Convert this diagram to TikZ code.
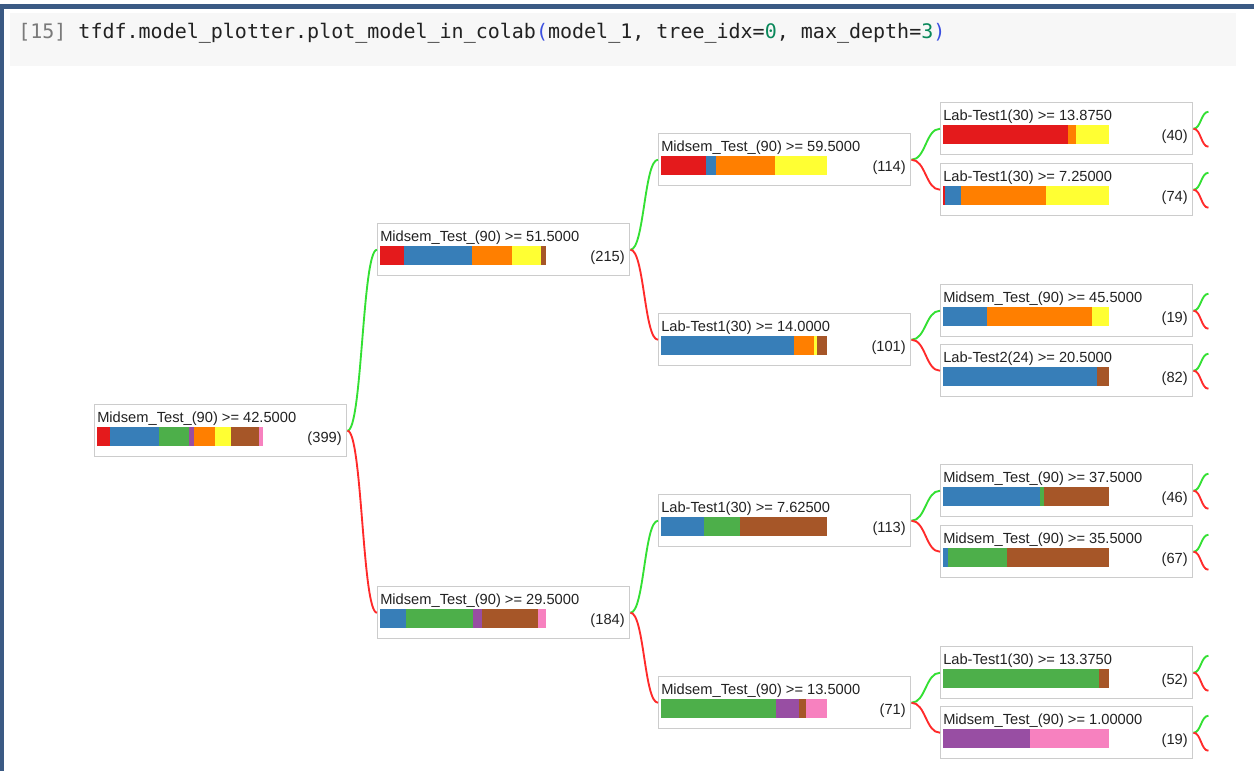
\documentclass[tikz,border=0pt]{standalone}
\usepackage{fontspec}
\setmainfont{Liberation Sans}
\newfontfamily\codefont{DejaVu Sans Mono}
\usetikzlibrary{calc}

% Set1 class colours
\definecolor{cRed}{HTML}{E41A1C}
\definecolor{cBlue}{HTML}{377EB8}
\definecolor{cGreen}{HTML}{4DAF4A}
\definecolor{cPurple}{HTML}{984EA3}
\definecolor{cOrange}{HTML}{FF7F00}
\definecolor{cYellow}{HTML}{FFFF33}
\definecolor{cBrown}{HTML}{A65628}
\definecolor{cPink}{HTML}{F781BF}
% frame and text colours
\definecolor{frameblue}{HTML}{3B5A84}
\definecolor{cellgray}{HTML}{F7F7F7}
\definecolor{promptgray}{HTML}{7A7A7A}
\definecolor{brk}{HTML}{3B4FE0}
\definecolor{num}{HTML}{09885A}
\definecolor{ink}{HTML}{222222}
\definecolor{boxgray}{HTML}{CCCCCC}
\definecolor{linkgreen}{HTML}{33E033}
\definecolor{linkred}{HTML}{FF2A2A}

\tikzset{
  treebox/.style={draw=boxgray, line width=1.1pt, fill=white,
    minimum width=189pt, minimum height=39pt, inner sep=0pt, anchor=north west},
  splitlabel/.style={anchor=base west, inner sep=0pt,
    font=\fontsize{11}{13}\selectfont, text=ink},
  countlabel/.style={anchor=base east, inner sep=0pt,
    font=\fontsize{11}{13}\selectfont, text=ink},
  yeslink/.style={draw=linkgreen, line width=1.4pt},
  nolink/.style={draw=linkred, line width=1.4pt},
}

% stacked class-distribution bar inside a node: #1 node, #2 total, #3 colour/count list
\newcommand\classbar[3]{%
  \xdef\barpos{0}%
  \pgfmathsetmacro\barunit{166/#2}%
  \foreach \bcol/\bcnt in {#3}{%
    \pgfmathsetmacro\barend{\barpos+\barunit*\bcnt}%
    \fill[\bcol] ($(#1.north west)+(3+\barpos,23)$) rectangle ($(#1.north west)+(3+\barend,42)$);%
    \xdef\barpos{\barend}%
  }%
}

% one split node: #1 name, #2 top-left corner, #3 condition, #4 sample count, #5 bar list
\newcommand\treenode[5]{%
  \node[treebox] (#1) at (#2) {};
  \node[splitlabel] (#1-t) at ($(#1.north west)+(3,18)$) {#3};
  \node[countlabel] (#1-c) at ($(#1.north west)+(248,38)$) {(#4)};
  \classbar{#1}{#4}{#5}%
}

% horizontal S-shaped link between two points
\newcommand\treelink[3]{%
  \path (#2) -- (#3) coordinate[pos=.5] (lnkmid);
  \draw[#1] (#2) .. controls (lnkmid |- #2) and (lnkmid |- #3) .. (#3);
}

\begin{document}
\begin{tikzpicture}[x=0.75pt, y=-0.75pt]
\useasboundingbox (0,0) rectangle (1254,771);
\fill[white] (0,0) rectangle (1254,771);

% notebook frame and code cell
\fill[frameblue] (0,4) rectangle (1254,9);
\fill[frameblue] (0,4) rectangle (4,771);
\fill[cellgray] (10,13) rectangle (1236,66);
\node[anchor=base west, inner sep=0pt, text=ink] (code) at (18,38)
  {\codefont\fontsize{15}{18}\selectfont\textcolor{promptgray}{[15]}
   tfdf.model\_plotter.plot\_model\_in\_colab\textcolor{brk}{(}model\_1,
   tree\_idx=\textcolor{num}{0}, max\_depth=\textcolor{num}{3}\textcolor{brk}{)}};

% depth 0
\treenode{n}{94,404}{Midsem\_Test\_(90) >= 42.5000}{399}
  {cRed/31,cBlue/117,cGreen/74,cPurple/10,cOrange/52,cYellow/38,cBrown/68,cPink/9}
% depth 1
\treenode{na}{377,223}{Midsem\_Test\_(90) >= 51.5000}{215}
  {cRed/31,cBlue/88,cOrange/52,cYellow/38,cBrown/6}
\treenode{nb}{377,586}{Midsem\_Test\_(90) >= 29.5000}{184}
  {cBlue/29,cGreen/74,cPurple/10,cBrown/62,cPink/9}
% depth 2
\treenode{naa}{658,133}{Midsem\_Test\_(90) >= 59.5000}{114}
  {cRed/31,cBlue/7,cOrange/40,cYellow/36}
\treenode{nab}{658,313}{Lab-Test1(30) >= 14.0000}{101}
  {cBlue/81,cOrange/12,cYellow/2,cBrown/6}
\treenode{nba}{658,494}{Lab-Test1(30) >= 7.62500}{113}
  {cBlue/29,cGreen/25,cBrown/59}
\treenode{nbb}{658,676}{Midsem\_Test\_(90) >= 13.5000}{71}
  {cGreen/49,cPurple/10,cBrown/3,cPink/9}
% depth 3
\treenode{naaa}{940,102}{Lab-Test1(30) >= 13.8750}{40}
  {cRed/30,cOrange/2,cYellow/8}
\treenode{naab}{940,163}{Lab-Test1(30) >= 7.25000}{74}
  {cRed/1,cBlue/7,cOrange/38,cYellow/28}
\treenode{naba}{940,284}{Midsem\_Test\_(90) >= 45.5000}{19}
  {cBlue/5,cOrange/12,cYellow/2}
\treenode{nabb}{940,344}{Lab-Test2(24) >= 20.5000}{82}
  {cBlue/76,cBrown/6}
\treenode{nbaa}{940,464}{Midsem\_Test\_(90) >= 37.5000}{46}
  {cBlue/27,cGreen/1,cBrown/18}
\treenode{nbab}{940,525}{Midsem\_Test\_(90) >= 35.5000}{67}
  {cBlue/2,cGreen/24,cBrown/41}
\treenode{nbba}{940,646}{Lab-Test1(30) >= 13.3750}{52}
  {cGreen/49,cBrown/3}
\treenode{nbbb}{940,706}{Midsem\_Test\_(90) >= 1.00000}{19}
  {cPurple/10,cPink/9}

% links: green to the "true" child, red to the "false" child
\foreach \p/\c in {n/na, na/naa, nb/nba, naa/naaa, nab/naba, nba/nbaa, nbb/nbba}
  {\treelink{yeslink}{\p.east}{\c.west}}
\foreach \p/\c in {n/nb, na/nab, nb/nbb, naa/naab, nab/nabb, nba/nbab, nbb/nbbb}
  {\treelink{nolink}{\p.east}{\c.west}}

% truncated links leaving the deepest shown nodes
\foreach \p in {naaa,naab,naba,nabb,nbaa,nbab,nbba,nbbb}{
  \coordinate (\p-up) at ($(\p.east)+(15,-17)$);
  \coordinate (\p-dn) at ($(\p.east)+(15,18)$);
  \treelink{yeslink}{\p.east}{\p-up}
  \treelink{nolink}{\p.east}{\p-dn}
}
\end{tikzpicture}
\end{document}
